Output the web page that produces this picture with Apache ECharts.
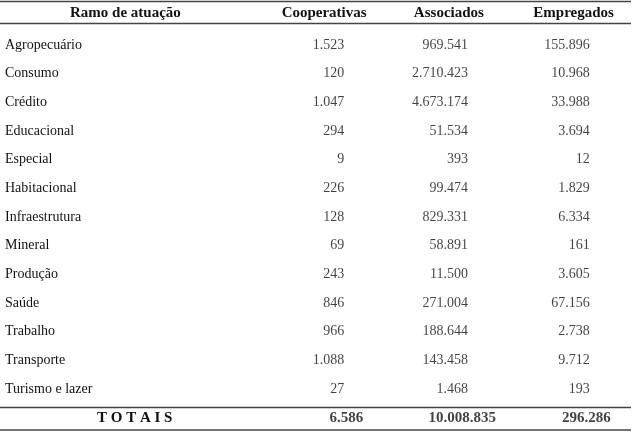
<!DOCTYPE html>
<html>
<head>
<meta charset="utf-8">
<script src="https://cdn.jsdelivr.net/npm/echarts@6/dist/echarts.min.js"></script>
<style>
html,body{margin:0;padding:0;background:#fff;}
#c{width:636px;height:432px;}
</style>
</head>
<body>
<div id="c"></div>
<script>
var colunas = ['Ramo de atuação', 'Cooperativas', 'Associados', 'Empregados'];
var ramos = ['Agropecuário', 'Consumo', 'Crédito', 'Educacional', 'Especial', 'Habitacional',
  'Infraestrutura', 'Mineral', 'Produção', 'Saúde', 'Trabalho', 'Transporte', 'Turismo e lazer'];
var cooperativas = [1523, 120, 1047, 294, 9, 226, 128, 69, 243, 846, 966, 1088, 27];
var associados = [969541, 2710423, 4673174, 51534, 393, 99474, 829331, 58891, 11500, 271004, 188644, 143458, 1468];
var empregados = [155896, 10968, 33988, 3694, 12, 1829, 6334, 161, 3605, 67156, 2738, 9712, 193];
var totaisRotulo = 'T O T A I S';
var totais = [6586, 10008835, 296286];

var FONT = "'Liberation Serif','Times New Roman',serif";
var INK = '#111';

function fmt(n) {
  return String(n).replace(/\B(?=(\d{3})+(?!\d))/g, '.');
}

var linhas = ramos.concat([totaisRotulo]);

function serieColuna(nome, valores, col, dx) {
  return {
    name: nome,
    type: 'scatter',
    symbolSize: 0,
    silent: true,
    data: valores.map(function (v, i) { return [col, i, v]; }),
    label: {
      show: true,
      position: 'inside',
      align: 'right',
      verticalAlign: 'middle',
      offset: [dx, 0],
      fontFamily: FONT,
      fontSize: 14,
      color: INK,
      formatter: function (p) { return fmt(p.value[2]); }
    }
  };
}

var totOffsets = [39, 47, 37];
var chart = echarts.init(document.getElementById('c'), null, { renderer: 'canvas' });
chart.setOption({
  animation: false,
  backgroundColor: '#fff',
  grid: { left: 137, right: 0, top: 30.6, bottom: -1.4 },
  xAxis: {
    type: 'category',
    position: 'top',
    data: colunas,
    axisLine: { show: false },
    axisTick: { show: false },
    splitLine: { show: false },
    axisLabel: {
      interval: 0,
      margin: 10,
      color: INK,
      fontFamily: FONT,
      fontSize: 15,
      fontWeight: 'bold',
      formatter: function (v, i) { return i === 0 ? '{a|' + v + '}' : v; },
      rich: {
        a: { fontFamily: FONT, fontSize: 15, fontWeight: 'bold', color: INK, padding: [0, 148, 0, 0] }
      }
    }
  },
  yAxis: {
    type: 'category',
    inverse: true,
    data: linhas,
    axisLine: { show: false },
    axisTick: { show: false },
    splitLine: { show: false },
    axisLabel: {
      interval: 0,
      align: 'left',
      margin: 132,
      color: INK,
      fontFamily: FONT,
      fontSize: 14,
      formatter: function (v) { return v === totaisRotulo ? '{t|' + v + '}' : v; },
      rich: {
        t: { fontFamily: FONT, fontSize: 15, fontWeight: 'bold', color: INK, padding: [0, 0, 0, 92] }
      }
    }
  },
  series: [
    serieColuna('Cooperativas', cooperativas, 1, 20),
    serieColuna('Associados', associados, 2, 19),
    serieColuna('Empregados', empregados, 3, 16),
    {
      name: 'Totais',
      type: 'scatter',
      symbolSize: 0,
      silent: true,
      data: totais.map(function (v, i) {
        return {
          value: [i + 1, ramos.length, v],
          label: { offset: [totOffsets[i], 0] }
        };
      }),
      label: {
        show: true,
        position: 'inside',
        align: 'right',
        verticalAlign: 'middle',
        fontFamily: FONT,
        fontSize: 15,
        fontWeight: 'bold',
        color: INK,
        formatter: function (p) { return fmt(p.value[2]); }
      }
    }
  ],
  graphic: [
    { type: 'line', shape: { x1: 0, y1: 1.5, x2: 631, y2: 1.5 }, style: { stroke: '#444', lineWidth: 1.5 } },
    { type: 'line', shape: { x1: 0, y1: 23.5, x2: 631, y2: 23.5 }, style: { stroke: '#444', lineWidth: 1.5 } },
    { type: 'line', shape: { x1: 0, y1: 407.5, x2: 631, y2: 407.5 }, style: { stroke: '#444', lineWidth: 1.5 } },
    { type: 'line', shape: { x1: 0, y1: 430, x2: 631, y2: 430 }, style: { stroke: '#444', lineWidth: 1.5 } }
  ]
});
</script>
</body>
</html>
